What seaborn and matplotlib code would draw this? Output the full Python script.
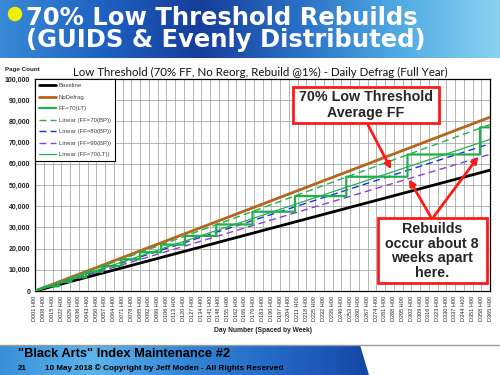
import numpy as np
import pandas as pd
import matplotlib
matplotlib.use("Agg")
import matplotlib.pyplot as plt
import seaborn as sns
from matplotlib.colors import LinearSegmentedColormap
from matplotlib.patches import Rectangle, Polygon, Circle
from matplotlib.ticker import StrMethodFormatter

# straight series: page count on the first and the last day
span_days = [1, 365]
baseline = [0, 57000]
no_defrag = [0, 82000]
lin_ff70_bp = [0, 78500]
lin_ff80_bp = [0, 69500]
lin_ff90_bp = [0, 64500]
lin_ff70_lt = [0, 71500]

# FF=70(LT): days of each rebuild and page count right after it
lt_start_day, lt_start_pages = 1, 0
rebuild_days = [10, 20, 30, 42, 55, 70, 85, 102, 121, 146, 175, 209, 250, 299, 357]
rebuild_pages = [2200, 4300, 6400, 9000, 11800, 15000, 18300, 21900, 26000,
                 31400, 37400, 44800, 53900, 64400, 77200]
last_day = 365

week_days = list(range(1, 366, 7))
week_labels = [f"D{d:03d} H00" for d in week_days]

title = "Low Threshold (70% FF, No Reorg, Rebuild @1%) - Daily Defrag (Full Year)"

sns.set_style("white")
plt.rcParams["font.family"] = ["Liberation Sans", "DejaVu Sans"]

fig = plt.figure(figsize=(5, 3.75), dpi=100)

# slide background: banners in pixel coordinates
bg = fig.add_axes([0, 0, 1, 1], zorder=0)
grad = np.tile(np.linspace(0, 1, 256), (8, 1))
top_cmap = LinearSegmentedColormap.from_list(
    "top", ["#3a8ad6", "#1f62c2", "#163d9a", "#2a70c6", "#50abe3", "#8ad2f0"])
bg.imshow(grad, cmap=top_cmap, extent=(0, 500, 58, 0), aspect="auto")
bg.plot([0, 500], [345, 345], color="#9a9a9a", lw=1)
foot_cmap = LinearSegmentedColormap.from_list(
    "foot", ["#3a8fd8", "#5cb4ec", "#3686d6", "#2468c4", "#1446a6"])
foot = bg.imshow(grad, cmap=foot_cmap, extent=(0, 370, 375, 345), aspect="auto")
clip = Polygon([(0, 345), (360, 345), (369, 375), (0, 375)], closed=True,
               transform=bg.transData, facecolor="none", edgecolor="none")
bg.add_patch(clip)
foot.set_clip_path(clip)
bg.add_patch(Circle((15, 14), 6.5, color="#f2f200"))
bg.text(26, 29, "70% Low Threshold Rebuilds\n(GUIDS & Evenly Distributed)",
        color="white", fontsize=17.5, family="DejaVu Sans", fontweight="bold",
        ha="left", va="center", linespacing=0.92)
bg.text(18, 357, '"Black Arts" Index Maintenance #2', color="black", fontsize=9.3,
        fontweight="bold", ha="left", va="baseline")
bg.text(18, 370, "21", color="black", fontsize=5.8, fontweight="bold", va="baseline")
bg.text(45, 370, "10 May 2018 \u00a9 Copyright by Jeff Moden - All Rights Reserved",
        color="black", fontsize=5.9, fontweight="bold", va="baseline")
bg.text(5, 70, "Page Count", fontsize=4.5, fontweight="bold", va="center", color="#222222")
bg.text(260, 72, title, fontsize=8.3, family="Lato", ha="center", va="center", color="#111111")
bg.text(263, 331, "Day Number (Spaced by Week)", fontsize=4.8, fontweight="bold",
        ha="center", va="center", color="#222222")
bg.set_xlim(0, 500)
bg.set_ylim(375, 0)
bg.axis("off")

# chart
ax = fig.add_axes([0.07, 0.224, 0.91, 0.5653], zorder=1)

lt_x, lt_y = [lt_start_day], [lt_start_pages]
prev = None
for d, p in zip(rebuild_days, rebuild_pages):
    if prev is not None:
        lt_x.append(d)
        lt_y.append(prev)
    lt_x.append(d)
    lt_y.append(p)
    prev = p
lt_x.append(last_day)
lt_y.append(prev)

sns.lineplot(x=span_days, y=baseline, ax=ax, color="black", lw=2, label="Baseline")
sns.lineplot(x=span_days, y=no_defrag, ax=ax, color="#b5651d", lw=2, label="NoDefrag")
sns.lineplot(x=lt_x, y=lt_y, ax=ax, estimator=None, sort=False, color="#1fb04a",
             lw=1.6, label="FF=70(LT)", zorder=3)
sns.lineplot(x=span_days, y=lin_ff70_bp, ax=ax, color="#22b14c", lw=1,
             dashes=(5, 3), label="Linear (FF=70(BP))")
sns.lineplot(x=span_days, y=lin_ff80_bp, ax=ax, color="#1f2fe0", lw=1,
             dashes=(5, 3), label="Linear (FF=80(BP))")
sns.lineplot(x=span_days, y=lin_ff90_bp, ax=ax, color="#8a3fd0", lw=1,
             dashes=(5, 3), label="Linear (FF=90(BP))")
sns.lineplot(x=span_days, y=lin_ff70_lt, ax=ax, color="#22b14c", lw=0.9,
             label="Linear (FF=70(LT))")

ax.set_xlim(1, 365)
ax.set_ylim(0, 100000)
ax.set_xticks(week_days)
ax.set_xticklabels(week_labels, rotation=90, fontsize=4)
ax.set_yticks(range(0, 100001, 10000))
ax.yaxis.set_major_formatter(StrMethodFormatter("{x:,.0f}"))
for t in ax.get_yticklabels():
    t.set_fontsize(5)
    t.set_fontweight("bold")
ax.grid(True, color="#a8a8a8", lw=0.6)
ax.tick_params(axis="both", length=2, pad=1.5, colors="#222222")
for s in ax.spines.values():
    s.set_color("black")
    s.set_linewidth(0.9)
ax.set_xlabel("")
ax.set_ylabel("")

leg = ax.legend(loc="upper left", bbox_to_anchor=(0, 1), borderaxespad=0,
                frameon=True, fancybox=False, edgecolor="black", fontsize=4.3,
                handlelength=2.8, labelspacing=1.05, borderpad=0.7,
                handletextpad=0.5, framealpha=1)
leg.get_frame().set_linewidth(0.8)
for t in leg.get_texts():
    t.set_color("#404040")

# callouts
ov = fig.add_axes([0, 0, 1, 1], zorder=2)
ov.patch.set_alpha(0)
ov.set_xlim(0, 500)
ov.set_ylim(375, 0)
ov.axis("off")

arrow = dict(arrowstyle="-|>", color="#ff1a1a", lw=2, mutation_scale=9)
ax.annotate("", xy=(287, lin_ff70_lt[1] * 287 / 365), xytext=(367, 123),
            textcoords=ov.transData, arrowprops=arrow, annotation_clip=False)
ax.annotate("", xy=(rebuild_days[-2], rebuild_pages[-3]), xytext=(432, 219),
            textcoords=ov.transData, arrowprops=arrow, annotation_clip=False)
ax.annotate("", xy=(rebuild_days[-1], rebuild_pages[-2]), xytext=(432, 219),
            textcoords=ov.transData, arrowprops=arrow, annotation_clip=False)

ov.add_patch(Rectangle((293, 87), 146, 36, facecolor="white", edgecolor="#ff1a1a", lw=2))
ov.text(366, 105, "70% Low Threshold\nAverage FF", fontsize=10.3, fontweight="bold",
        ha="center", va="center", linespacing=1.1)
ov.add_patch(Rectangle((378, 218), 109, 65, facecolor="white", edgecolor="#ff1a1a", lw=2))
ov.text(432, 251, "Rebuilds\noccur about 8\nweeks apart\nhere.", fontsize=10.3,
        fontweight="bold", ha="center", va="center", linespacing=1.07)

fig.savefig("out.png", dpi=100)
